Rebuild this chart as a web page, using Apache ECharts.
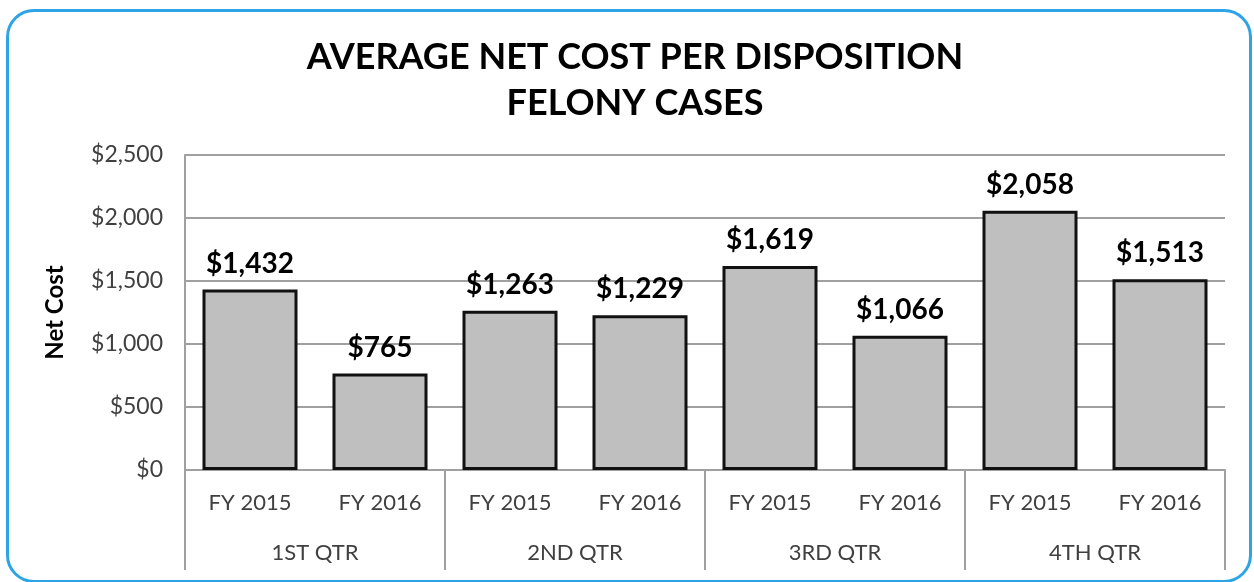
<!DOCTYPE html>
<html>
<head>
<meta charset="utf-8">
<script src="https://cdn.jsdelivr.net/npm/echarts@6/dist/echarts.min.js"></script>
<style>
  html, body { margin: 0; padding: 0; background: #fff; }
  .wrap { position: relative; width: 1254px; height: 582px; overflow: hidden; }
  .frame {
    position: absolute; left: 6px; top: 9px; width: 1240px; height: 568px;
    border: 3px solid #2ea3e6; border-radius: 28px; pointer-events: none;
  }
  #chart { position: absolute; left: 0; top: 0; width: 1254px; height: 582px; }
</style>
</head>
<body>
<div class="wrap">
  <div id="chart"></div>
  <div class="frame"></div>
</div>
<script>
const years = ['FY 2015', 'FY 2016', 'FY 2015', 'FY 2016', 'FY 2015', 'FY 2016', 'FY 2015', 'FY 2016']
const quarters = ['1ST QTR', '2ND QTR', '3RD QTR', '4TH QTR']
const netCost = [1432, 765, 1263, 1229, 1619, 1066, 2058, 1513]
const yTicks = { min: 0, max: 2500, interval: 500 }

const font = 'Lato, "DejaVu Sans", sans-serif'
const money = v => '$' + v.toLocaleString('en-US')

const option = {
  textStyle: { fontFamily: font },
  title: {
    text: 'AVERAGE NET COST PER DISPOSITION\nFELONY CASES',
    left: 630,
    top: 29,
    textAlign: 'center',
    textStyle: { fontSize: 36, fontWeight: 'bold', color: '#000', lineHeight: 46, fontFamily: font }
  },
  grid: { left: 185, right: 29, top: 155, bottom: 112, containLabel: false },
  xAxis: [
    {
      type: 'category',
      data: years,
      axisLine: { lineStyle: { color: '#a0a0a0', width: 2 } },
      axisTick: { show: false },
      axisLabel: { color: '#404040', fontSize: 22, margin: 22, interval: 0 }
    },
    {
      type: 'category',
      data: quarters,
      position: 'bottom',
      axisLine: { show: false },
      axisTick: { show: true, length: 100, lineStyle: { color: '#a0a0a0', width: 2 } },
      axisLabel: { color: '#404040', fontSize: 22, margin: 72, interval: 0 }
    }
  ],
  yAxis: {
    type: 'value',
    min: yTicks.min,
    max: yTicks.max,
    interval: yTicks.interval,
    name: 'Net Cost',
    nameLocation: 'middle',
    nameGap: 118,
    nameTextStyle: { fontSize: 24, fontWeight: 'bold', color: '#000' },
    axisLine: { show: true, lineStyle: { color: '#a0a0a0', width: 2 } },
    axisTick: { show: false },
    axisLabel: { color: '#404040', fontSize: 23, margin: 22, formatter: money },
    splitLine: { lineStyle: { color: '#a0a0a0', width: 2 } }
  },
  series: [
    {
      type: 'bar',
      xAxisIndex: 0,
      data: netCost,
      barWidth: 95,
      itemStyle: { color: '#bfbfbf', borderColor: '#111', borderWidth: 3 },
      label: {
        show: true,
        position: 'top',
        distance: 12,
        formatter: p => money(p.value),
        fontSize: 28,
        fontWeight: 'bold',
        color: '#000'
      }
    }
  ]
}

const chart = echarts.init(document.getElementById('chart'))
chart.setOption(option)
</script>
</body>
</html>
